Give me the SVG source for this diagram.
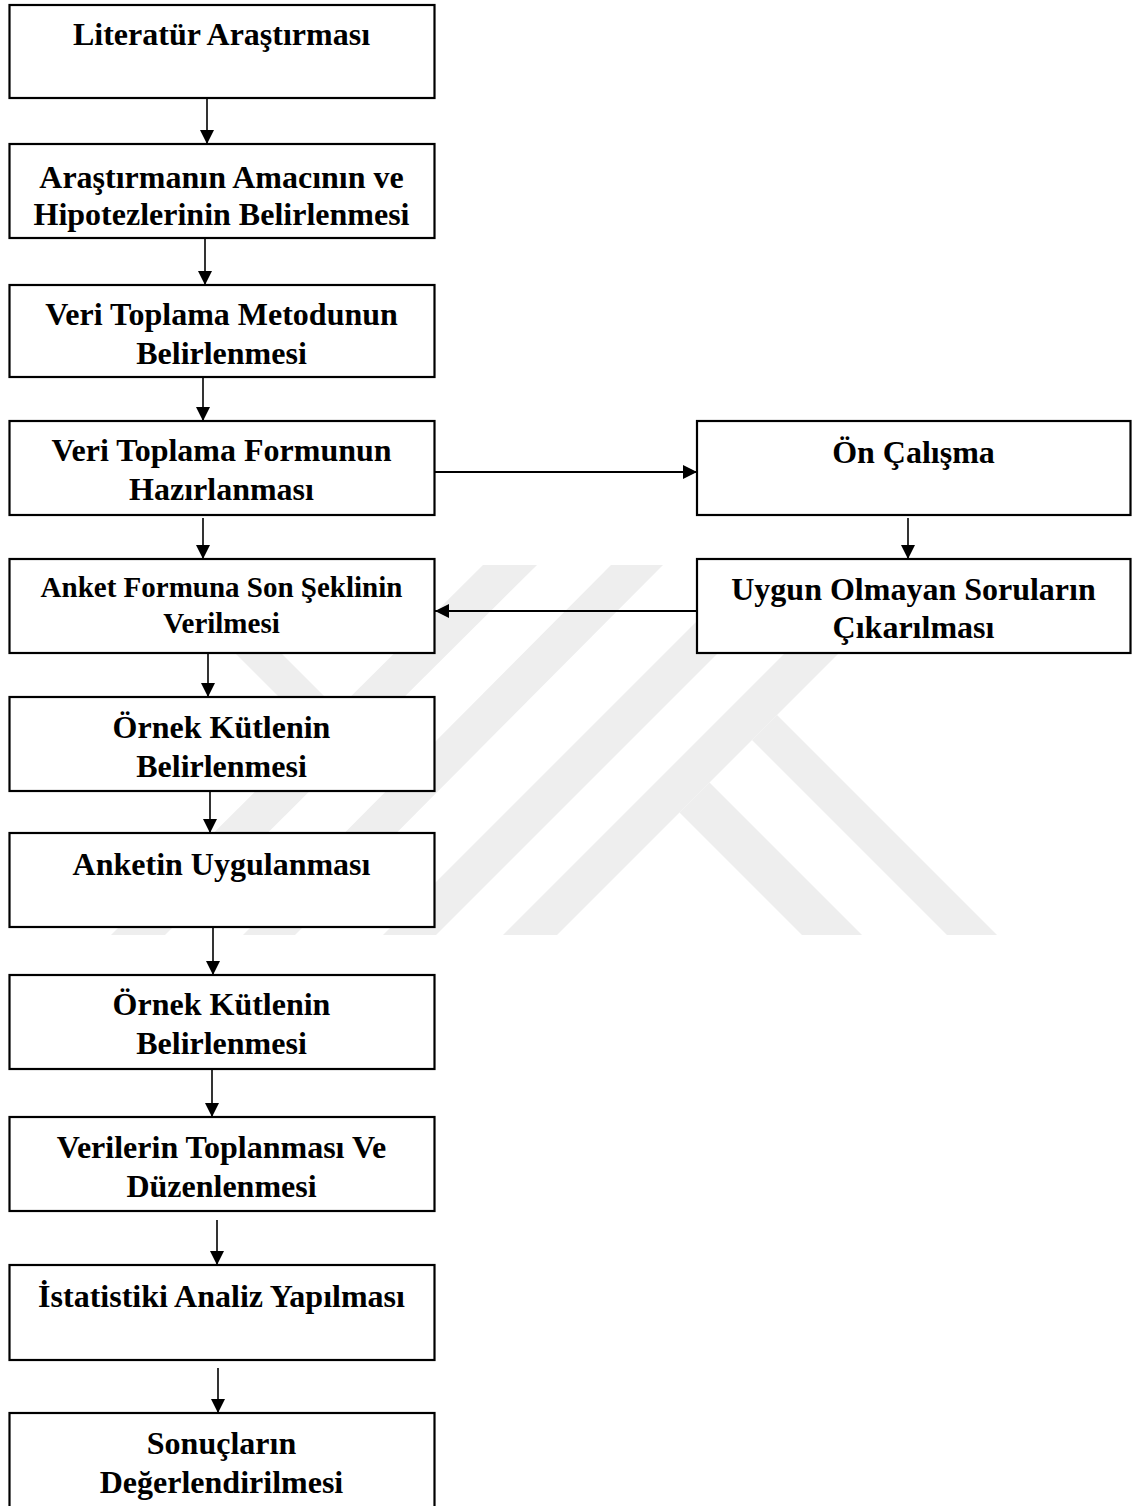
<svg xmlns="http://www.w3.org/2000/svg" width="1132" height="1506" viewBox="0 0 1132 1506">
<style>
.box{fill:#ffffff;stroke:#000000;stroke-width:2.2}
.t{font-family:"Liberation Serif","Times New Roman",serif;font-weight:bold;font-size:32px;fill:#000000;text-anchor:middle}
.ts{font-size:29px}
.c{stroke:#000000;stroke-width:1.6;fill:none;marker-end:url(#ah)}
.ch{stroke-width:2.2}
.wm{fill:#eeeeee}
</style>
<defs>
<marker id="ah" markerUnits="userSpaceOnUse" viewBox="0 0 14 14" markerWidth="14" markerHeight="14" refX="14" refY="7" orient="auto">
<path d="M0,0 L14,7 L0,14 z" fill="#000000"/>
</marker>
</defs>
<rect width="1132" height="1506" fill="#ffffff"/>
<g id="watermark">
<polygon class="wm" points="483,565 537,565 165,935 111,935"/>
<polygon class="wm" points="611,565 663,565 295,935 243,935"/>
<polygon class="wm" points="728,590 781,590 436,935 383,935"/>
<polygon class="wm" points="838,600 892,600 557,935 503,935"/>
<polygon class="wm" points="777,715 997,935 947,935 752,740"/>
<polygon class="wm" points="709.5,782.5 862,935 802,935 679.5,812.5"/>
<polygon class="wm" points="182,600 228,600 337,709 314,732"/>
</g>
<g id="connectors">
<line class="c" x1="207" y1="98" x2="207" y2="144"/>
<line class="c" x1="205" y1="238" x2="205" y2="285"/>
<line class="c" x1="203" y1="377" x2="203" y2="421"/>
<line class="c" x1="203" y1="518" x2="203" y2="559"/>
<line class="c" x1="208" y1="653" x2="208" y2="697"/>
<line class="c" x1="210" y1="789" x2="210" y2="833"/>
<line class="c" x1="213" y1="927" x2="213" y2="975"/>
<line class="c" x1="212" y1="1069" x2="212" y2="1117"/>
<line class="c" x1="217" y1="1220" x2="217" y2="1265"/>
<line class="c" x1="218" y1="1368" x2="218" y2="1413"/>
<line class="c ch" x1="435" y1="472" x2="697" y2="472"/>
<line class="c" x1="908" y1="518" x2="908" y2="559"/>
<line class="c ch" x1="697" y1="611" x2="435" y2="611"/>
</g>
<g id="n1"><rect class="box" x="9.5" y="5" width="425" height="93"/>
<text class="t" x="221.5" y="45">Literatür Araştırması</text></g>
<g id="n2"><rect class="box" x="9.5" y="144" width="425" height="94"/>
<text class="t" x="221.5" y="188">Araştırmanın Amacının ve</text>
<text class="t" x="221.5" y="225">Hipotezlerinin Belirlenmesi</text></g>
<g id="n3"><rect class="box" x="9.5" y="285" width="425" height="92"/>
<text class="t" x="221.5" y="325">Veri Toplama Metodunun</text>
<text class="t" x="221.5" y="364">Belirlenmesi</text></g>
<g id="n4"><rect class="box" x="9.5" y="421" width="425" height="94"/>
<text class="t" x="221.5" y="461">Veri Toplama Formunun</text>
<text class="t" x="221.5" y="500">Hazırlanması</text></g>
<g id="n5"><rect class="box" x="697" y="421" width="433.5" height="94"/>
<text class="t" x="913.5" y="463">Ön Çalışma</text></g>
<g id="n6"><rect class="box" x="9.5" y="559" width="425" height="94"/>
<text class="t ts" x="221.5" y="597">Anket Formuna Son Şeklinin</text>
<text class="t ts" x="221.5" y="633">Verilmesi</text></g>
<g id="n7"><rect class="box" x="697" y="559" width="433.5" height="94"/>
<text class="t" x="913.5" y="600">Uygun Olmayan Soruların</text>
<text class="t" x="913.5" y="638">Çıkarılması</text></g>
<g id="n8"><rect class="box" x="9.5" y="697" width="425" height="94"/>
<text class="t" x="221.5" y="738">Örnek Kütlenin</text>
<text class="t" x="221.5" y="777">Belirlenmesi</text></g>
<g id="n9"><rect class="box" x="9.5" y="833" width="425" height="94"/>
<text class="t" x="221.5" y="875">Anketin Uygulanması</text></g>
<g id="n10"><rect class="box" x="9.5" y="975" width="425" height="94"/>
<text class="t" x="221.5" y="1015">Örnek Kütlenin</text>
<text class="t" x="221.5" y="1054">Belirlenmesi</text></g>
<g id="n11"><rect class="box" x="9.5" y="1117" width="425" height="94"/>
<text class="t" x="221.5" y="1158">Verilerin Toplanması Ve</text>
<text class="t" x="221.5" y="1197">Düzenlenmesi</text></g>
<g id="n12"><rect class="box" x="9.5" y="1265" width="425" height="95"/>
<text class="t" x="221.5" y="1307">İstatistiki Analiz Yapılması</text></g>
<g id="n13"><rect class="box" x="9.5" y="1413" width="425" height="100"/>
<text class="t" x="221.5" y="1454">Sonuçların</text>
<text class="t" x="221.5" y="1493">Değerlendirilmesi</text></g>
</svg>
